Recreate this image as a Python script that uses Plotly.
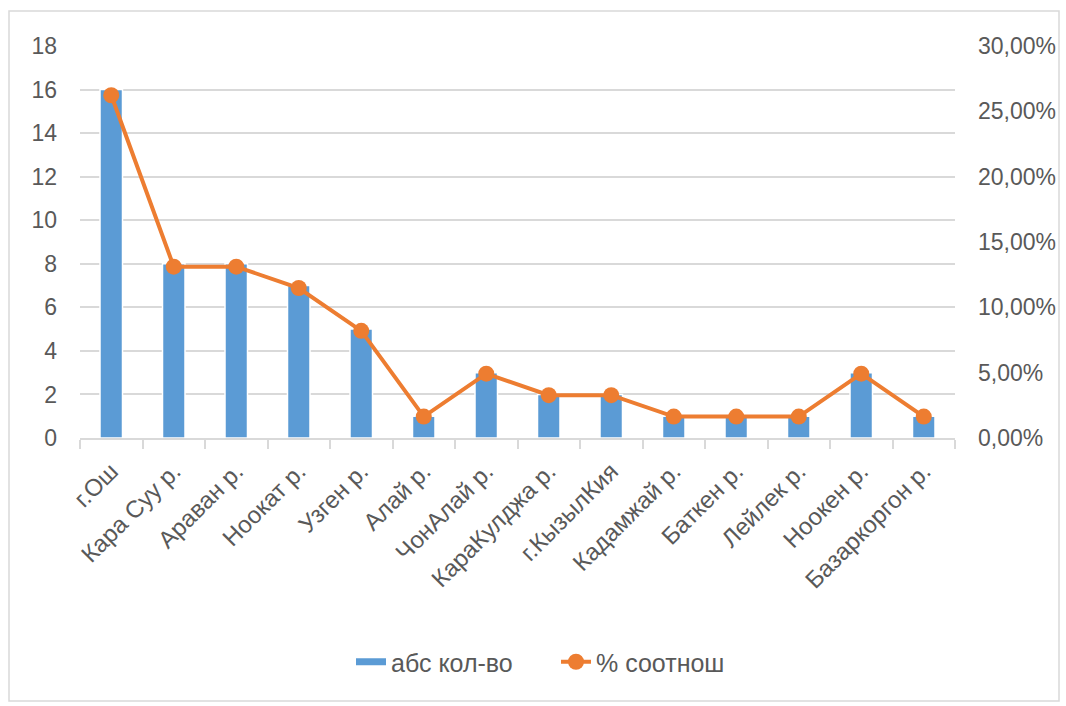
import plotly.graph_objects as go

categories = ["г.Ош", "Кара Суу р.", "Араван р.", "Ноокат р.", "Узген р.", "Алай р.",
              "ЧонАлай р.", "КараКулджа р.", "г.КызылКия", "Кадамжай р.", "Баткен р.",
              "Лейлек р.", "Ноокен р.", "Базаркоргон р."]
abs_count = [16, 8, 8, 7, 5, 1, 3, 2, 2, 1, 1, 1, 3, 1]
pct = [26.23, 13.11, 13.11, 11.48, 8.20, 1.64, 4.92, 3.28, 3.28, 1.64, 1.64, 1.64, 4.92, 1.64]
left_ticks = [0, 2, 4, 6, 8, 10, 12, 14, 16, 18]
right_ticks = [0, 5, 10, 15, 20, 25, 30]
right_labels = ["0,00%", "5,00%", "10,00%", "15,00%", "20,00%", "25,00%", "30,00%"]

FONT = "Liberation Sans"
TXT = "#595959"
GRID = "#D9D9D9"
BLUE = "#5B9BD5"
ORANGE = "#ED7D31"

fig = go.Figure()
fig.add_trace(go.Bar(
    x=categories, y=abs_count, name="абс кол-во", showlegend=False,
    marker=dict(color=BLUE, line=dict(color="white", width=1.5)),
    yaxis="y",
))
# legend entry for bars drawn as a wide bar swatch
fig.add_trace(go.Scatter(
    x=[None], y=[None], name="абс кол-во", mode="lines",
    line=dict(color=BLUE, width=7), yaxis="y",
))
fig.add_trace(go.Scatter(
    x=categories, y=pct, name="% соотнош", mode="lines+markers",
    line=dict(color=ORANGE, width=4),
    marker=dict(color=ORANGE, size=16),
    yaxis="y2",
))

L, R, T, B = 80, 111, 46, 268
W, H = 1066, 706
pw = W - L - R
ph = H - T - B

def px(x):
    return (x - L) / pw

def py(y):
    return (H - B - y) / ph

fig.update_layout(
    width=W, height=H,
    margin=dict(l=L, r=R, t=T, b=B),
    paper_bgcolor="white", plot_bgcolor="white",
    font=dict(family=FONT, color=TXT, size=23),
    bargap=0.64,
    showlegend=True,
    legend=dict(orientation="h", x=px(556), y=py(662), xanchor="center", yanchor="middle",
                font=dict(size=25, color=TXT), traceorder="normal",
                entrywidth=160, entrywidthmode="pixels"),
    xaxis=dict(
        type="category", range=[-0.5, len(categories) - 0.5],
        tickangle=-45, tickfont=dict(size=24, color=TXT),
        showline=True, linecolor=GRID, linewidth=1.5,
        ticks="outside", tickson="boundaries", ticklen=9, tickcolor=GRID, tickwidth=1.5,
        showgrid=False, fixedrange=True, automargin=False, ticklabelstandoff=8,
    ),
    yaxis=dict(
        range=[0, 18], tickvals=left_ticks, showgrid=True, gridcolor=GRID, gridwidth=1.5,
        zeroline=False, showline=False, tickfont=dict(size=23, color=TXT),
        ticklabelstandoff=22, automargin=False,
    ),
    yaxis2=dict(
        range=[0, 30], tickvals=right_ticks, ticktext=right_labels, overlaying="y",
        side="right", showgrid=False, zeroline=False, showline=False,
        tickfont=dict(size=23, color=TXT), ticklabelstandoff=22, automargin=False,
    ),
    shapes=[dict(type="rect", xref="paper", yref="paper",
                 x0=px(9), x1=px(1059), y0=py(701), y1=py(11),
                 line=dict(color="#D9D9D9", width=1.5), fillcolor="rgba(0,0,0,0)", layer="below")],
)

fig.write_html("out.html")
